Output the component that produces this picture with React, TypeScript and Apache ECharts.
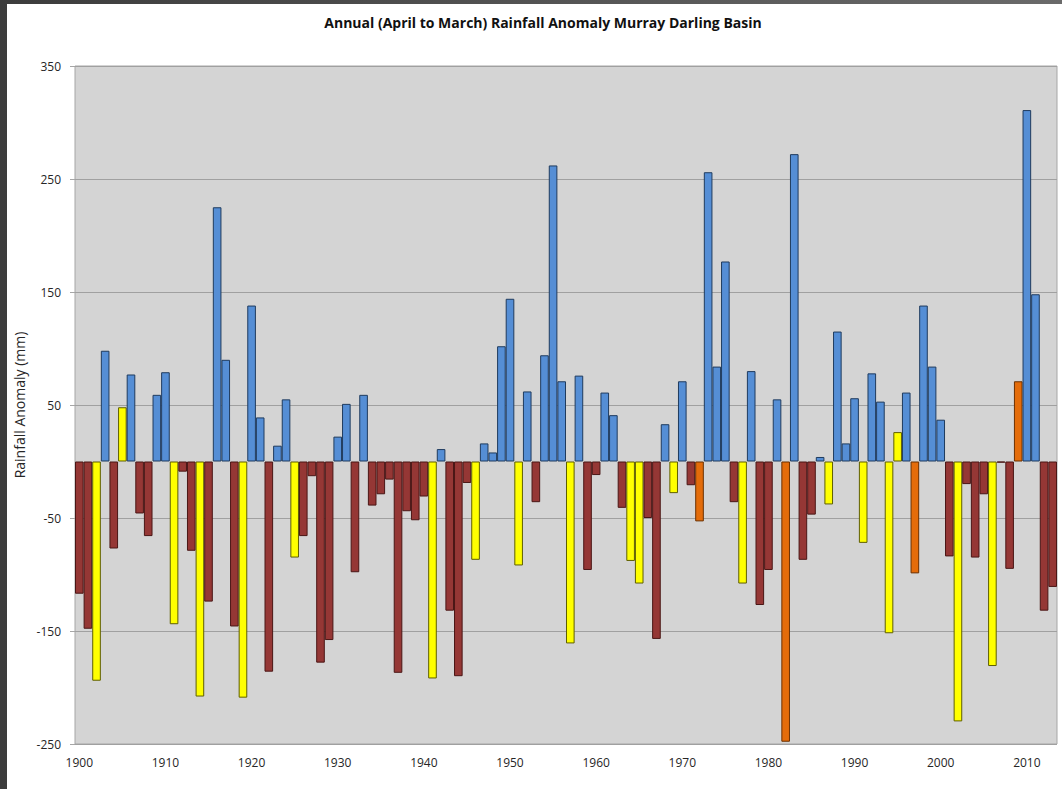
import React, { useEffect, useRef } from "react";
import * as echarts from "echarts";

const startYear = 1900;
const years: string[] = Array.from({ length: 114 }, (_, i) => String(startYear + i));

// Annual rainfall anomaly (mm), 1900 .. 2013
const anomalies: number[] = [
  -117, -148, -194, 98, -77, 48, 77, -46, -66, 59,
  79, -144, -9, -79, -208, -124, 225, 90, -146, -209,
  138, 39, -186, 14, 55, -85, -66, -13, -178, -158,
  22, 51, -98, 59, -39, -29, -16, -187, -44, -52,
  -31, -192, 11, -132, -190, -19, -87, 16, 8, 102,
  144, -92, 62, -36, 94, 262, 71, -161, 76, -96,
  -12, 61, 41, -41, -88, -108, -50, -157, 33, -28,
  71, -21, -53, 256, 84, 177, -36, -108, 80, -127,
  -96, 55, -248, 272, -87, -47, 4, -38, 115, 16,
  56, -72, 78, 53, -152, 26, 61, -99, 138, 84,
  37, -84, -230, -20, -85, -29, -181, -1, -95, 71,
  311, 148, -132, -111,
];

const yellowYears: number[] = [
  1902, 1905, 1911, 1914, 1919, 1925, 1941, 1946, 1951, 1957, 1964, 1965,
  1969, 1977, 1987, 1991, 1994, 1995, 2002, 2006,
];
const orangeYears: number[] = [1972, 1982, 1997, 2009];

const yTicks = { min: -250, max: 350, interval: 100 };

const COLORS = {
  blue: { fill: "#558ED5", border: "#1F3B5E" },
  red: { fill: "#953735", border: "#4A1615" },
  yellow: { fill: "#FFFF00", border: "#5E5E00" },
  orange: { fill: "#E46C0A", border: "#6B3000" },
};

export default function App() {
  const ref = useRef<HTMLDivElement>(null);

  useEffect(() => {
    if (!ref.current) return;
    const chart = echarts.init(ref.current, undefined, { renderer: "svg" });

    const data = anomalies.map((v, i) => {
      const yr = startYear + i;
      let c = v >= 0 ? COLORS.blue : COLORS.red;
      if (yellowYears.includes(yr)) c = COLORS.yellow;
      if (orangeYears.includes(yr)) c = COLORS.orange;
      return {
        value: v,
        itemStyle: { color: c.fill, borderColor: c.border, borderWidth: 1 },
      };
    });

    chart.setOption({
      animation: false,
      backgroundColor: "transparent",
      textStyle: { fontFamily: "Open Sans" },
      grid: {
        left: 75,
        top: 66,
        width: 982,
        height: 678,
        show: true,
        backgroundColor: "#D4D4D4",
        borderColor: "#A6A6A6",
        borderWidth: 1,
      },
      xAxis: {
        type: "category",
        data: years,
        axisLine: { show: false, onZero: false },
        axisTick: { show: false },
        axisLabel: {
          interval: 9,
          color: "#262626",
          fontSize: 12,
          fontFamily: "Open Sans",
          margin: 12,
        },
        splitLine: { show: false },
      },
      yAxis: {
        type: "value",
        min: yTicks.min,
        max: yTicks.max,
        interval: yTicks.interval,
        axisLine: { show: false },
        axisTick: { show: true, length: 5, lineStyle: { color: "#A6A6A6" } },
        axisLabel: {
          color: "#262626",
          fontSize: 12,
          fontFamily: "Open Sans",
          margin: 14,
        },
        splitLine: { show: true, lineStyle: { color: "#A0A0A0", width: 1 } },
      },
      graphic: [
        {
          type: "text",
          x: 543,
          y: 22,
          style: {
            text: "Annual (April to March) Rainfall Anomaly Murray Darling Basin",
            fontFamily: "Open Sans",
            fontWeight: "bold",
            fontSize: 14,
            fill: "#111",
            align: "center",
            verticalAlign: "middle",
          },
        },
        {
          type: "text",
          x: 19,
          y: 405,
          rotation: Math.PI / 2,
          style: {
            text: "Rainfall Anomaly (mm)",
            fontFamily: "Open Sans",
            fontSize: 14,
            fill: "#262626",
            align: "center",
            verticalAlign: "middle",
          },
        },
      ],
      series: [
        {
          type: "bar",
          data,
          barWidth: "100%",
          barCategoryGap: "0%",
          barGap: "0%",
        },
      ],
    });

    return () => chart.dispose();
  }, []);

  return (
    <div
      style={{
        position: "fixed",
        left: 0,
        top: 0,
        width: 1062,
        height: 789,
        background: "linear-gradient(90deg, #3c3c3c, #6a6a6a)",
      }}
    >
      <div
        style={{
          position: "absolute",
          left: 7,
          top: 4,
          right: 0,
          bottom: 0,
          background: "#FFFFFF",
        }}
      />
      <div ref={ref} style={{ position: "absolute", left: 0, top: 0, width: 1062, height: 789 }} />
    </div>
  );
}
